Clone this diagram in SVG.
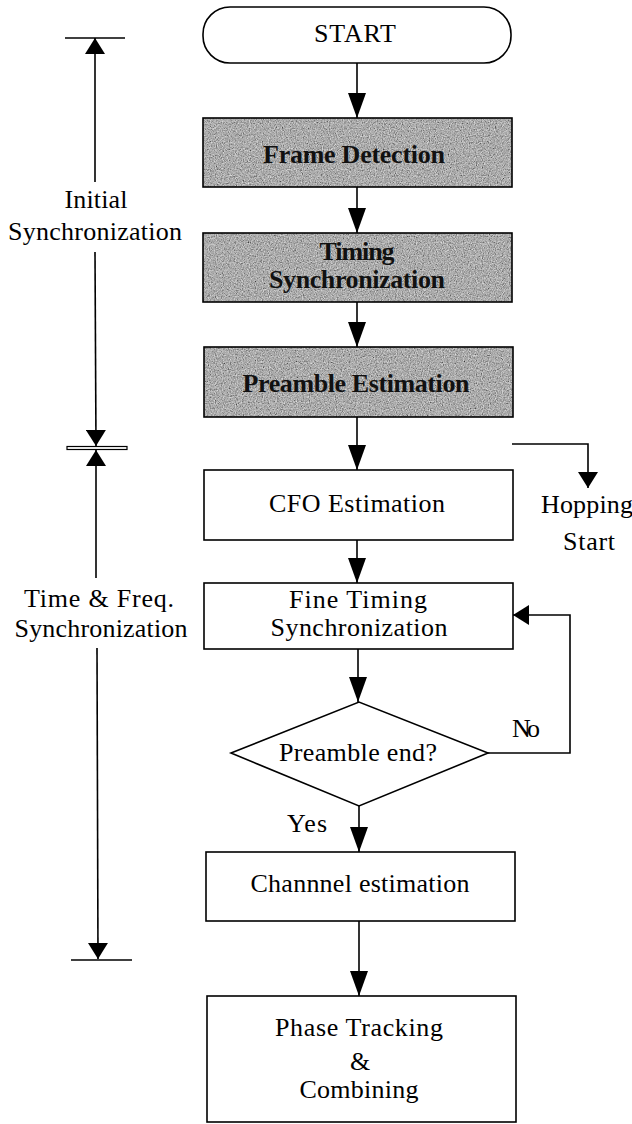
<svg xmlns="http://www.w3.org/2000/svg" width="632" height="1124" viewBox="0 0 632 1124">
<defs>
<style>
.box{fill:#fff;stroke:#000;stroke-width:1.6}
.outline{fill:none;stroke:#000;stroke-width:1.6}
.shade{fill:#8e8e8e;filter:url(#grain)}
.t{font-family:"Liberation Serif","Times New Roman",serif;font-size:26px;fill:#000;text-anchor:middle}
.b{font-weight:bold;fill:#111}
.l{text-anchor:start}
.conn{fill:none;stroke:#000;stroke-width:1.6}
</style>
<filter id="grain" x="0" y="0" width="1" height="1">
<feTurbulence type="fractalNoise" baseFrequency="0.85" numOctaves="2" seed="5" result="noise"/>
<feColorMatrix in="noise" type="matrix" values="0.33 0.33 0.33 0 0 0.33 0.33 0.33 0 0 0.33 0.33 0.33 0 0 0 0 0 0 1" result="gray"/>
<feComposite in="gray" in2="SourceGraphic" operator="arithmetic" k1="0" k2="1.5" k3="0.6" k4="-0.5" result="mix"/>
<feComposite in="mix" in2="SourceGraphic" operator="in"/>
</filter>
<marker id="ah" markerUnits="userSpaceOnUse" markerWidth="25" markerHeight="18" refX="25" refY="9" orient="auto">
<path d="M0,0 L25,9 L0,18 Z" fill="#000"/>
</marker>
<marker id="ahs" markerUnits="userSpaceOnUse" markerWidth="16" markerHeight="20" refX="16" refY="10" orient="auto">
<path d="M0,0 L16,10 L0,20 Z" fill="#000"/>
</marker>
</defs>
<rect width="632" height="1124" fill="#fff"/>

<g id="connectors">
<line class="conn" x1="357" y1="63" x2="357" y2="118" marker-end="url(#ah)"/>
<line class="conn" x1="357" y1="187" x2="357" y2="233" marker-end="url(#ah)"/>
<line class="conn" x1="357" y1="302" x2="357" y2="347" marker-end="url(#ah)"/>
<line class="conn" x1="357" y1="417" x2="357" y2="470" marker-end="url(#ah)"/>
<line class="conn" x1="357" y1="540" x2="357" y2="583" marker-end="url(#ah)"/>
<line class="conn" x1="358" y1="649" x2="358" y2="702" marker-end="url(#ah)"/>
<line class="conn" x1="359" y1="806" x2="359" y2="852" marker-end="url(#ah)"/>
<line class="conn" x1="359" y1="921" x2="359" y2="996" marker-end="url(#ah)"/>
<polyline class="conn" points="488,753 570,753 570,615 513,615" marker-end="url(#ahs)"/>
<polyline class="conn" points="512,444 588,444 588,488" marker-end="url(#ahs)"/>
</g>

<g id="bracket">
<line class="conn" x1="65" y1="38" x2="125" y2="38"/>
<line class="conn" x1="95" y1="182" x2="95" y2="38" marker-end="url(#ahs)"/>
<line class="conn" x1="95" y1="252" x2="96" y2="446" marker-end="url(#ahs)"/>
<rect x="67" y="446.5" width="60" height="3" fill="#fff" stroke="#000" stroke-width="1.2"/>
<line class="conn" x1="96" y1="578" x2="96" y2="450" marker-end="url(#ahs)"/>
<line class="conn" x1="97" y1="648" x2="98" y2="959" marker-end="url(#ahs)"/>
<line class="conn" x1="71" y1="960" x2="132" y2="960"/>
<text class="t" x="96" y="208" textLength="63">Initial</text>
<text class="t" x="95" y="240" textLength="174">Synchronization</text>
<text class="t" x="99" y="607" textLength="150">Time &amp; Freq.</text>
<text class="t" x="101" y="637" textLength="173">Synchronization</text>
</g>

<g id="start">
<rect class="box" x="203" y="7" width="308" height="56" rx="27"/>
<text class="t" x="355" y="42" textLength="82">START</text>
</g>

<g id="frame-detection">
<rect class="shade" x="203" y="118" width="309" height="69"/>
<rect class="outline" x="203" y="118" width="309" height="69"/>
<text class="t b" x="354" y="163" textLength="182">Frame Detection</text>
</g>

<g id="timing-sync">
<rect class="shade" x="203" y="233" width="309" height="69"/>
<rect class="outline" x="203" y="233" width="309" height="69"/>
<text class="t b" x="357" y="260" textLength="75">Timing</text>
<text class="t b" x="357" y="288" textLength="176">Synchronization</text>
</g>

<g id="preamble-estimation">
<rect class="shade" x="204" y="347" width="309" height="70"/>
<rect class="outline" x="204" y="347" width="309" height="70"/>
<text class="t b" x="356" y="392" textLength="227">Preamble Estimation</text>
</g>

<g id="cfo-estimation">
<rect class="box" x="204" y="470" width="309" height="70"/>
<text class="t" x="357" y="512" textLength="176">CFO Estimation</text>
</g>

<g id="hopping-start">
<text class="t" x="587" y="513" textLength="92">Hopping</text>
<text class="t" x="589" y="550" textLength="52">Start</text>
</g>

<g id="fine-timing">
<rect class="box" x="204" y="583" width="309" height="66"/>
<text class="t" x="358" y="608" textLength="138">Fine Timing</text>
<text class="t" x="359" y="636" textLength="177">Synchronization</text>
</g>

<g id="preamble-end">
<polygon class="box" points="231,753 359,702 488,753 359,806"/>
<text class="t" x="358" y="761" textLength="158">Preamble end?</text>
<text class="t l" x="512" y="737" textLength="28">No</text>
<text class="t l" x="287" y="832" textLength="40">Yes</text>
</g>

<g id="channel-estimation">
<rect class="box" x="206" y="852" width="309" height="69"/>
<text class="t" x="360" y="892" textLength="219">Channnel estimation</text>
</g>

<g id="phase-tracking">
<rect class="box" x="207" y="996" width="309" height="126"/>
<text class="t" x="359" y="1036" textLength="168">Phase Tracking</text>
<text class="t" x="360" y="1070">&amp;</text>
<text class="t" x="359" y="1098" textLength="119">Combining</text>
</g>
</svg>
